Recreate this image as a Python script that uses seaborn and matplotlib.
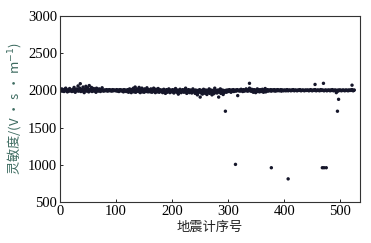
import numpy as np
import pandas as pd
import matplotlib
matplotlib.use("Agg")
import matplotlib.pyplot as plt
from matplotlib import font_manager
import seaborn as sns

# sensitivity of each seismometer (index 0..525)
sensitivity = [
    2000,2010,1995,2020,1990,2005,2000,1985,2015,2000,2030,1995,2005,1980,2000,2010,1990,2025,2000,1995,
    2005,1985,2000,2015,1990,2040,2000,1975,2010,2000,2020,1995,2060,1990,2005,2030,2090,1985,2000,2015,
    1990,2045,2000,1970,2020,2005,2055,1990,2010,2035,2000,1980,2065,2000,2015,1995,2040,1985,2005,2000,
    2025,1990,2010,2000,1975,2030,2000,2015,1990,2005,2020,2000,1985,2010,2000,2035,1995,2005,1990,2000,
    2005,2000,1995,2010,2000,1990,2005,2000,2010,1995,2000,2005,1990,2000,2010,1995,2000,2005,2000,1995,
    2000,2010,1990,2000,2005,1985,2000,2010,1995,2000,2005,1990,2000,1980,2010,2000,1995,2005,1985,2000,
    1990,2010,1975,2000,2020,1985,2005,1970,2000,2015,1990,2030,1980,2005,2045,1975,2000,2020,1990,2010,
    1985,2040,2000,1970,2015,1995,2030,1980,2005,2000,1975,2020,1990,2010,1985,2035,2000,1980,2010,1990,
    2000,1980,2020,1995,1975,2010,1990,2030,1985,2000,1970,2015,1990,2005,1980,2025,1995,1975,2010,1990,
    2000,1985,2005,1970,1995,2015,1980,2000,1960,1990,2010,1975,2000,1985,2020,1995,1970,2005,1990,2000,
    1980,2010,1995,1965,2000,1985,2025,1990,1975,2005,1995,1950,2000,1980,2015,1990,1970,2000,1985,2010,
    1995,1975,2005,1985,2030,1990,1960,2000,1980,2010,1990,1970,2005,1985,2000,1965,1995,2020,1980,2000,
    1990,1960,2005,1975,1995,1940,2000,1970,1990,2010,1910,1985,1965,2000,1950,1990,2015,1975,1995,1960,
    2005,1980,1945,2000,1970,1995,2020,1960,1985,2005,1975,1940,2000,1985,1955,1995,2030,1970,1990,2000,
    1965,1985,2005,1910,1975,1995,2020,1960,1990,1980,2005,1945,1995,1970,1985,2000,1990,1975,2005,1995,
    2000,1985,2010,1995,2000,1975,2005,1990,2000,2010,1985,2000,1995,2005,1990,2000,2010,1930,1995,2000,
    2005,1990,2000,2015,1995,2000,1985,2010,2000,1990,2005,2000,2020,1995,2000,1990,2010,2000,2030,1995,
    2000,1990,2015,1985,2000,1975,2010,1995,2005,1970,2000,1990,2020,1985,1995,2005,1980,2010,1990,2000,
    1985,2015,1995,1975,2005,1990,2025,1980,2000,1995,2010,1990,2000,2005,1995,2000,2010,1990,2000,2005,
    2000,1995,2010,2000,1990,2005,2000,1995,2010,2000,2005,1995,2000,2000,2010,1990,2000,2005,2000,1995,
    2000,2005,2000,1995,2000,2010,2000,1995,2000,2005,2000,2000,1995,2005,2000,2000,2010,2000,1995,2000,
    2005,2000,2000,1995,2000,2005,2000,2000,2010,2000,1995,2000,2000,2005,2000,2000,1995,2000,2005,2000,
    2000,2000,2005,2000,1995,2000,2000,2010,2000,2000,1995,2000,2005,2000,2000,2010,2000,1995,2000,2000,
    2005,2000,2000,1995,2000,2010,2000,2000,2005,2000,2000,1995,2000,2000,2005,2000,1995,2000,2000,2005,
    2000,2000,1995,2005,2000,2000,2010,2000,1995,2000,2000,2005,2000,1995,2000,2000,1990,2005,2000,2000,
    2005,2000,1995,2000,2000,2005,2000,2000,1995,2000,2005,2000,2000,2000,1995,2005,2000,2000,2000,2005,
    2000,2010,2000,1995,2000,2005,
]
seis_index = list(range(len(sensitivity)))

# separated points (outliers)
outlier_index = [295, 313, 377, 407, 468, 471, 475, 455, 470, 338, 493, 497, 495, 521]
outlier_value = [1720, 1005, 960, 810, 960, 960, 960, 2080, 2095, 2095, 1970, 1880, 1720, 2070]

xticks = [0, 100, 200, 300, 400, 500]
yticks = [500, 1000, 1500, 2000, 2500, 3000]

df = pd.DataFrame({"idx": seis_index + outlier_index,
                   "sens": sensitivity + outlier_value})

sns.set_style("white")
plt.rcParams["font.serif"] = ["Liberation Serif", "DejaVu Serif"]
plt.rcParams["font.family"] = ["serif"]

serif_fp = font_manager.FontProperties(family="serif", size=10.5)

fig = plt.figure(figsize=(3.71, 2.43), dpi=100)
ax = fig.add_axes([0.162, 0.169, 0.808, 0.765])

sns.scatterplot(data=df, x="idx", y="sens", ax=ax, s=6, color="#15162a",
                edgecolor="none", linewidth=0)

ax.set_xlim(0, 535)
ax.set_ylim(500, 3000)
ax.set_xticks(xticks)
ax.set_yticks(yticks)
ax.set_xticklabels([str(t) for t in xticks], fontproperties=serif_fp)
ax.set_yticklabels([str(t) for t in yticks], fontproperties=serif_fp)
ax.tick_params(axis="both", direction="in", length=2.5, width=0.6,
               colors="black", pad=2, top=False, right=False,
               bottom=True, left=True)
for sp in ax.spines.values():
    sp.set_color("#333333")
    sp.set_linewidth(0.8)

ax.set_xlabel("地震计序号", family=["Noto Sans CJK SC", "DejaVu Sans"],
              fontsize=9.5, color="#222222", labelpad=2)
ax.set_ylabel("灵敏度/(V · s · m$^{-1}$)", family=["Noto Sans CJK SC", "DejaVu Sans"],
              fontsize=9.5, color="#3d6b60", labelpad=4)

fig.savefig("out.png", dpi=100)
